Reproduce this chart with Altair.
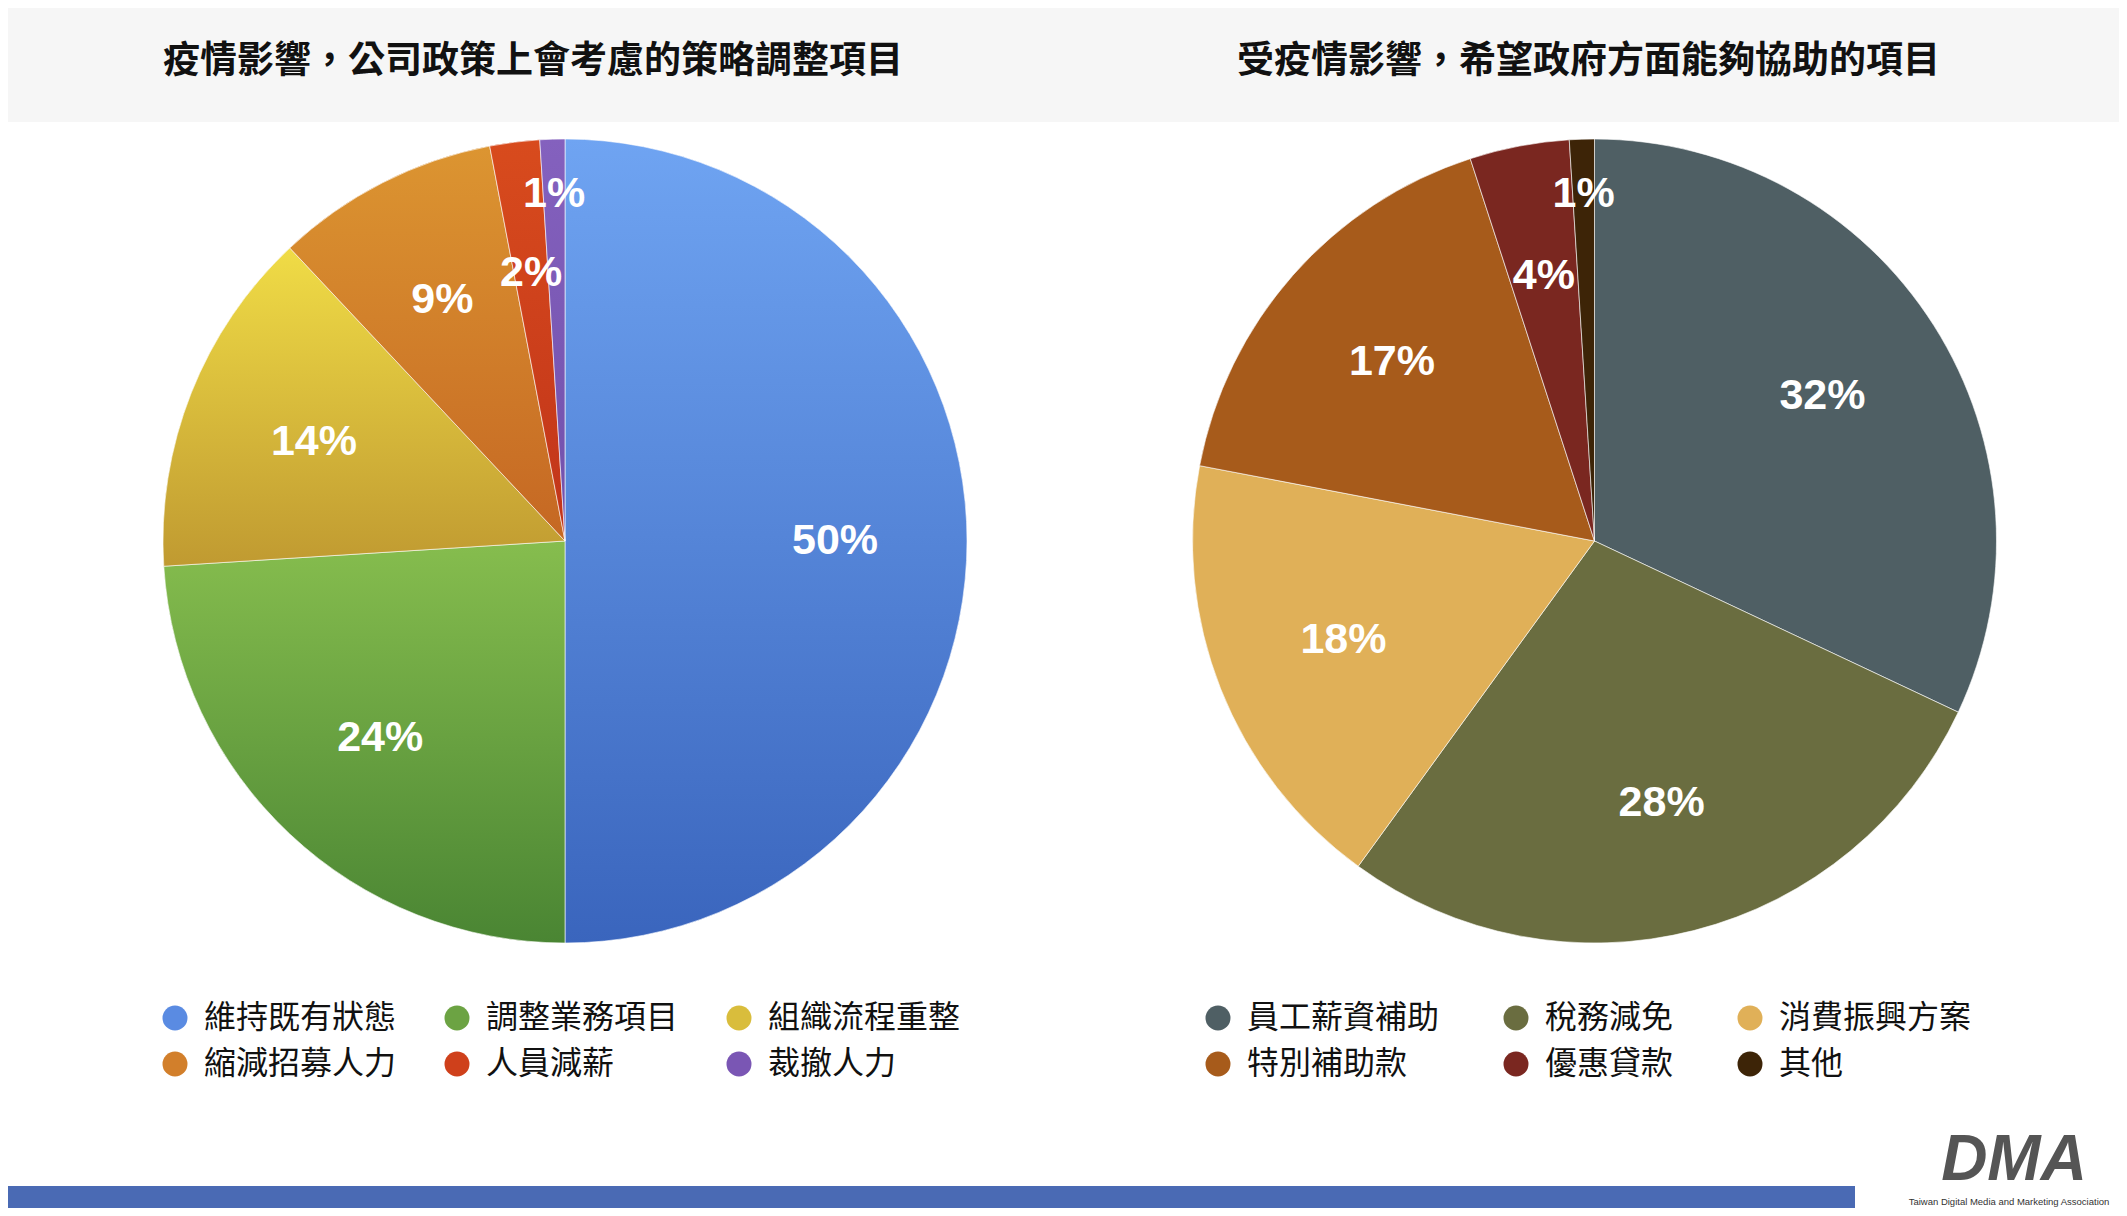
import altair as alt
import pandas as pd

# ---------------- data ----------------
left_title = "疫情影響，公司政策上會考慮的策略調整項目"
right_title = "受疫情影響，希望政府方面能夠協助的項目"

left_categories = ["維持既有狀態", "調整業務項目", "組織流程重整", "縮減招募人力", "人員減薪", "裁撤人力"]
left_values = [50, 24, 14, 9, 2, 1]
left_colors = ["#5a8be2", "#6ca343", "#d9bd3c", "#d27f2b", "#cf401b", "#7a56b4"]
left_top = ["#6fa4f2", "#86bd4e", "#f0dc46", "#dc9531", "#d84b1d", "#8461be"]
left_bottom = ["#3a65bd", "#4a8533", "#c09a31", "#c56723", "#c1341a", "#7150ab"]

right_categories = ["員工薪資補助", "稅務減免", "消費振興方案", "特別補助款", "優惠貸款", "其他"]
right_values = [32, 28, 18, 17, 4, 1]
right_colors = ["#4f5f64", "#6a6d40", "#e0b058", "#a75b1b", "#7a2720", "#3d2407"]

logo_text = "DMA"
logo_sub = "Taiwan Digital Media and Marketing Association"

# ---------------- style ----------------
CJK = "Noto Sans CJK TC"
LAT = "Liberation Sans"
W, H = 2111, 1200
R = 402


def pie(cats, vals, colors, cx, cy, lx, ly, colpad, tops=None, bottoms=None):
    df = pd.DataFrame({"cat": cats, "value": vals, "order": list(range(len(cats)))})
    base = (
        alt.Chart(df)
        .transform_window(e="sum(value)", sort=[alt.SortField("order", order="ascending")], frame=[None, 0])
        .transform_calculate(
            s="datum.e - datum.value",
            mid="datum.e - datum.value / 2",
            r="datum.value <= 1 ? 347 : 270",
            label="datum.value + '%'",
        )
    )
    tscale = alt.Scale(domain=[0, 100])
    theta = alt.Theta("s:Q", stack=False, scale=tscale)
    theta2 = alt.Theta2("e:Q")
    pos = dict(x=alt.value(cx), y=alt.value(cy))

    legend = alt.Legend(
        orient="none", legendX=lx, legendY=ly, columns=3, columnPadding=colpad,
        direction="horizontal",
        rowPadding=14, symbolType="circle", symbolSize=625, symbolStrokeWidth=0,
        labelFont=CJK, labelFontSize=32, labelColor="#111111", labelLimit=600,
        labelOffset=13, padding=0, title=None,
    )
    arcs = base.mark_arc(radius=R, stroke="#ffffff", strokeWidth=1, strokeOpacity=0.6).encode(
        theta=theta, theta2=theta2,
        color=alt.Color("cat:N", scale=alt.Scale(domain=cats, range=colors), legend=legend),
        **pos,
    )
    layers = [arcs]
    if tops:
        for c, t, b in zip(cats, tops, bottoms):
            grad = {"gradient": "linear", "x1": 0, "y1": 0, "x2": 0, "y2": 1,
                    "stops": [{"offset": 0, "color": t}, {"offset": 1, "color": b}]}
            layers.append(
                base.transform_filter(alt.datum.cat == c)
                .mark_arc(radius=R, fill=grad, stroke="#ffffff", strokeWidth=1, strokeOpacity=0.6)
                .encode(theta=theta, theta2=theta2, **pos)
            )
    labels = base.mark_text(
        font=LAT, fontSize=43, fontWeight="bold", color="#ffffff", align="center", baseline="middle"
    ).encode(
        theta=alt.Theta("mid:Q", stack=False, scale=tscale),
        radius=alt.Radius("r:Q", scale=None),
        text="label:N",
        **pos,
    )
    layers.append(labels)
    return alt.layer(*layers)


one = pd.DataFrame({"a": [0]})

band = alt.Chart(one).mark_rect(color="#f6f6f6").encode(
    x=alt.value(0), x2=alt.value(W), y=alt.value(0), y2=alt.value(114)
)
title_l = alt.Chart(pd.DataFrame({"t": [left_title]})).mark_text(
    font=CJK, fontSize=37, fontWeight="bold", color="#111111", align="left", baseline="middle"
).encode(text="t:N", x=alt.value(155), y=alt.value(54))
title_r = alt.Chart(pd.DataFrame({"t": [right_title]})).mark_text(
    font=CJK, fontSize=37, fontWeight="bold", color="#111111", align="left", baseline="middle"
).encode(text="t:N", x=alt.value(1229), y=alt.value(54))

left = pie(left_categories, left_values, left_colors, 557, 533, 151, 994, 44, left_top, left_bottom)
right = pie(right_categories, right_values, right_colors, 1586.5, 533, 1194, 994, 60)

bar = alt.Chart(one).mark_rect(color="#4a6ab4").encode(
    x=alt.value(0), x2=alt.value(1847), y=alt.value(1178), y2=alt.value(H)
)
logo = alt.Chart(pd.DataFrame({"t": [logo_text]})).mark_text(
    font=LAT, fontSize=64, fontWeight="bold", fontStyle="italic", color="#555555",
    align="center", baseline="alphabetic"
).encode(text="t:N", x=alt.value(2006), y=alt.value(1172))
logo2 = alt.Chart(pd.DataFrame({"t": [logo_sub]})).mark_text(
    font=LAT, fontSize=9.5, color="#333333", align="center", baseline="middle"
).encode(text="t:N", x=alt.value(2001), y=alt.value(1194))

chart = (
    alt.layer(band, title_l, title_r, left, right, bar, logo, logo2)
    .resolve_scale(color="independent")
    .properties(width=W, height=H, padding=0, autosize=alt.AutoSizeParams(type="none"), background="#ffffff")
    .configure_view(stroke="transparent")
)

chart.save("out.html", embed_options={"renderer": "svg", "actions": False})
